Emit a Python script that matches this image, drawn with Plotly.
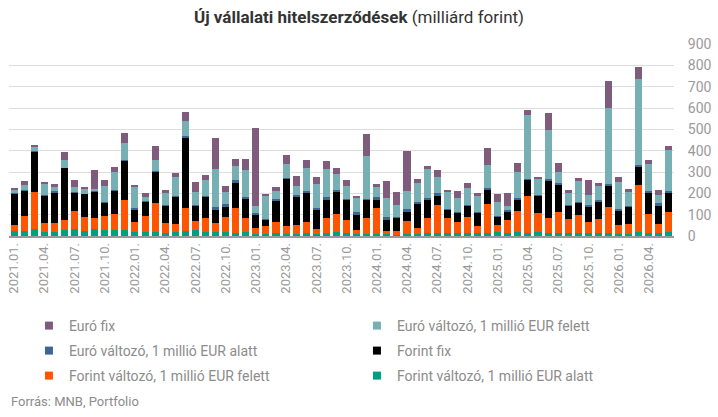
import plotly.graph_objects as go

# havi kategóriák 2021.01. - 2026.06.
months = [f"{y}.{m:02d}." for y in range(2021, 2027) for m in range(1, 13)][:66]
tick_labels = months[::3]

# milliárd forint, alulról felfelé halmozva
forint_valt_alatt = [23, 23, 33, 20, 20, 30, 33, 23, 33, 30, 30, 30,
                     20, 20, 20, 14, 20, 23, 30, 20, 20, 20, 14, 20,
                     9, 9, 14, 9, 9, 14, 9, 14, 19, 14, 9, 9,
                     9, 9, 5, 9, 9, 14, 14, 14, 14, 14, 14, 14,
                     19, 14, 19, 14, 19, 14, 14, 14, 14, 14, 14, 14,
                     9, 9, 19, 14, 14, 19]
forint_valt_felett = [28, 72, 174, 42, 42, 45, 85, 66, 52, 64, 74, 139,
                      45, 74, 135, 47, 36, 108, 41, 64, 41, 69, 117, 64,
                      28, 38, 52, 38, 42, 52, 24, 70, 85, 61, 19, 75,
                      122, 14, 19, 61, 28, 70, 131, 70, 52, 75, 33, 136,
                      33, 61, 99, 174, 89, 70, 99, 66, 85, 52, 66, 122,
                      42, 47, 221, 89, 42, 94]
forint_fix = [146, 120, 188, 130, 144, 244, 84, 108, 122, 61, 108, 183,
              61, 66, 146, 80, 127, 329, 70, 99, 61, 47, 122, 94,
              66, 28, 99, 221, 132, 136, 89, 89, 103, 94, 75, 85,
              42, 56, 61, 47, 117, 89, 47, 38, 42, 52, 61, 66,
              38, 42, 52, 75, 80, 174, 127, 61, 56, 70, 80, 99,
              70, 80, 85, 103, 89, 89]
euro_valt_alatt = [3, 2, 5, 2, 5, 2, 5, 2, 2, 5, 2, 5,
                   5, 5, 2, 5, 6, 9, 5, 5, 14, 14, 9, 5,
                   5, 5, 9, 5, 9, 9, 9, 9, 9, 5, 9, 5,
                   9, 9, 5, 9, 5, 5, 9, 5, 5, 6, 5, 9,
                   5, 5, 9, 5, 6, 9, 9, 5, 5, 9, 9, 9,
                   5, 5, 9, 5, 9, 9]
euro_valt_felett = [16, 22, 19, 50, 23, 36, 23, 25, 13, 75, 88, 80,
                    103, 19, 55, 56, 88, 70, 61, 75, 178, 56, 66, 127,
                    33, 108, 38, 66, 42, 108, 113, 132, 75, 61, 70, 202,
                    47, 89, 56, 85, 89, 136, 75, 80, 66, 78, 75, 108,
                    66, 19, 122, 299, 75, 230, 52, 56, 99, 47, 66, 357,
                    127, 66, 404, 127, 38, 193]
euro_fix = [9, 19, 9, 9, 9, 38, 33, 6, 89, 28, 23, 47,
            5, 19, 66, 14, 19, 42, 47, 24, 146, 28, 33, 52,
            366, 9, 19, 42, 47, 38, 33, 38, 28, 28, 5, 103,
            14, 80, 61, 188, 19, 14, 33, 9, 33, 23, 14, 80,
            38, 61, 42, 25, 5, 80, 42, 14, 14, 70, 14, 127,
            24, 14, 52, 19, 24, 19]

# (név, adatok, szín, jelmagyarázat-sor)
series = [
    ("Forint változó, 1 millió EUR alatt", forint_valt_alatt, "#00A07E", "legend3"),
    ("Forint változó, 1 millió EUR felett", forint_valt_felett, "#FF5500", "legend3"),
    ("Forint fix", forint_fix, "#000000", "legend2"),
    ("Euró változó, 1 millió EUR alatt", euro_valt_alatt, "#3E6592", "legend2"),
    ("Euró változó, 1 millió EUR felett", euro_valt_felett, "#76B0B4", "legend"),
    ("Euró fix", euro_fix, "#805C7C", "legend"),
]

fig = go.Figure()
for name, vals, color, leg in series:
    fig.add_trace(go.Bar(x=months, y=vals, name=name, showlegend=False,
                         marker=dict(color=color, line=dict(width=0))))
    # kisebb négyzet a jelmagyarázatba
    fig.add_trace(go.Scatter(x=[None], y=[None], mode="markers", name=name,
                             legend=leg, hoverinfo="skip",
                             marker=dict(symbol="square", size=8, color=color)))

grey = "#8c8c8c"
# a rajzterület 44..236 px között van (192 px)
def row_y(px):
    return -(px - 236) / 192

legend_style = dict(orientation="h", traceorder="reversed",
                    x=0.03, xanchor="left", yanchor="middle",
                    entrywidth=283, entrywidthmode="pixels",
                    font=dict(size=14, color=grey), itemclick=False,
                    bgcolor="rgba(0,0,0,0)")

fig.update_layout(
    width=718, height=417,
    barmode="stack", bargap=0.3,
    paper_bgcolor="white", plot_bgcolor="white",
    margin=dict(l=6, r=43, t=44, b=181),
    font=dict(family="Roboto", size=13, color=grey),
    title=dict(text="<b>Új vállalati hitelszerződések</b> (milliárd forint)",
               x=0.5, xanchor="center", y=0.958, yanchor="middle",
               font=dict(size=17, color="#333333")),
    legend=dict(legend_style, y=row_y(326)),
    legend2=dict(legend_style, y=row_y(351)),
    legend3=dict(legend_style, y=row_y(376)),
)
fig.update_xaxes(type="category", categoryorder="array", categoryarray=months,
                 tickvals=tick_labels, ticktext=tick_labels, tickangle=-90,
                 showline=True, linecolor="#9a9a9a", linewidth=1.5,
                 ticks="", tickfont=dict(size=13, color="#9a9a9a"))
fig.update_yaxes(side="right", range=[0, 900], dtick=100,
                 gridcolor="#dddddd", gridwidth=1, zeroline=False,
                 ticks="outside", ticklen=10, tickcolor="rgba(0,0,0,0)",
                 ticklabeloverflow="allow",
                 tickfont=dict(size=14, color="#9a9a9a"))

fig.add_annotation(text="Forrás: MNB, Portfolio", xref="paper", yref="paper",
                   x=0.0, y=row_y(401), xanchor="left", yanchor="middle",
                   showarrow=False, font=dict(size=13, color=grey))

fig.write_html("out.html", config={"displayModeBar": False},
               post_script="document.body.style.margin='0';")
